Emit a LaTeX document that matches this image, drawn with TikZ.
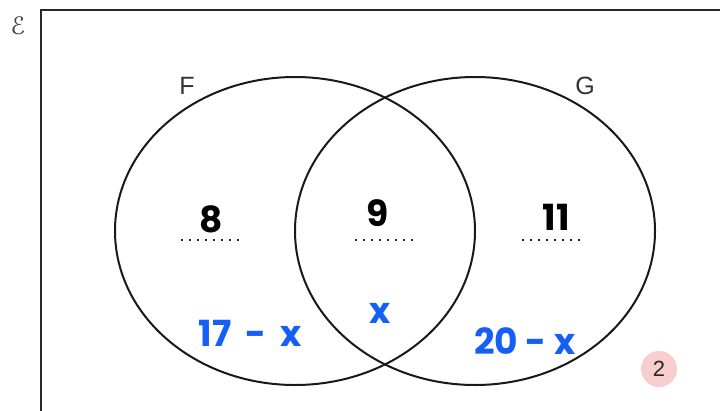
\documentclass[tikz,border=0pt]{standalone}
\usepackage{fontspec}
\usetikzlibrary{shapes.geometric}
\setmainfont{Liberation Sans}
\newfontfamily\handfont{Poppins}
\newfontfamily\scriptsym{DejaVu Sans}
\definecolor{hblue}{RGB}{20,95,245}
\definecolor{framegray}{RGB}{40,40,40}
\definecolor{badgepink}{RGB}{248,205,205}
\begin{document}
\begin{tikzpicture}[x=1pt,y=-1pt,
  setline/.style={line width=2pt,black!90},
  setlabel/.style={font=\fontsize{25}{25}\selectfont,text=black!80},
  answer/.style={font=\handfont\bfseries\fontsize{36}{36}\selectfont,text=black},
  work/.style={font=\handfont\bfseries\fontsize{36}{36}\selectfont,text=hblue},
  dotline/.style={line width=2pt,dash pattern=on 2pt off 6pt,black!85}]
\useasboundingbox (0,0) rectangle (720,410);
\fill[white] (0,0) rectangle (720,410);
% universal set frame
\coordinate (fb) at (41,412);
\coordinate (ftl) at (41,10);
\coordinate (ftr) at (722,10);
\draw[line width=2.2pt,framegray] (fb) -- (ftl) -- (ftr);
\node[text=black!75,inner sep=0pt,font=\scriptsym\fontsize{24}{24}\selectfont] (E) at (18,26) {ℰ};
% sets
\node[setline,draw,ellipse,minimum width=360pt,minimum height=308pt,inner sep=0pt] (F) at (295,231) {};
\node[setline,draw,ellipse,minimum width=360pt,minimum height=308pt,inner sep=0pt] (G) at (475,231) {};
\node[setlabel] (Fl) at (187,86) {F};
\node[setlabel] (Gl) at (585,86) {G};
% answers
\node[answer] (a8) at (211,219) {8};
\node[answer] (a9) at (378,213) {9};
\node[answer] (a11) at (556,217) {11};
\coordinate (d1a) at (181,240); \coordinate (d1b) at (242,240);
\coordinate (d2a) at (355,240); \coordinate (d2b) at (416,240);
\coordinate (d3a) at (522,240); \coordinate (d3b) at (583,240);
\draw[dotline] (d1a) -- (d1b);
\draw[dotline] (d2a) -- (d2b);
\draw[dotline] (d3a) -- (d3b);
% working
\node[work] (w1) at (250,333) {17\hspace{14pt}-\hspace{14pt}x};
\node[work] (w2) at (380,313) {x};
\node[work] (w3) at (525,341) {20 - x};
% mark badge
\node[circle,fill=badgepink,minimum size=36pt,inner sep=0pt,font=\fontsize{22}{22}\selectfont,text=black!85] (m) at (659,369) {2};
\end{tikzpicture}
\end{document}
